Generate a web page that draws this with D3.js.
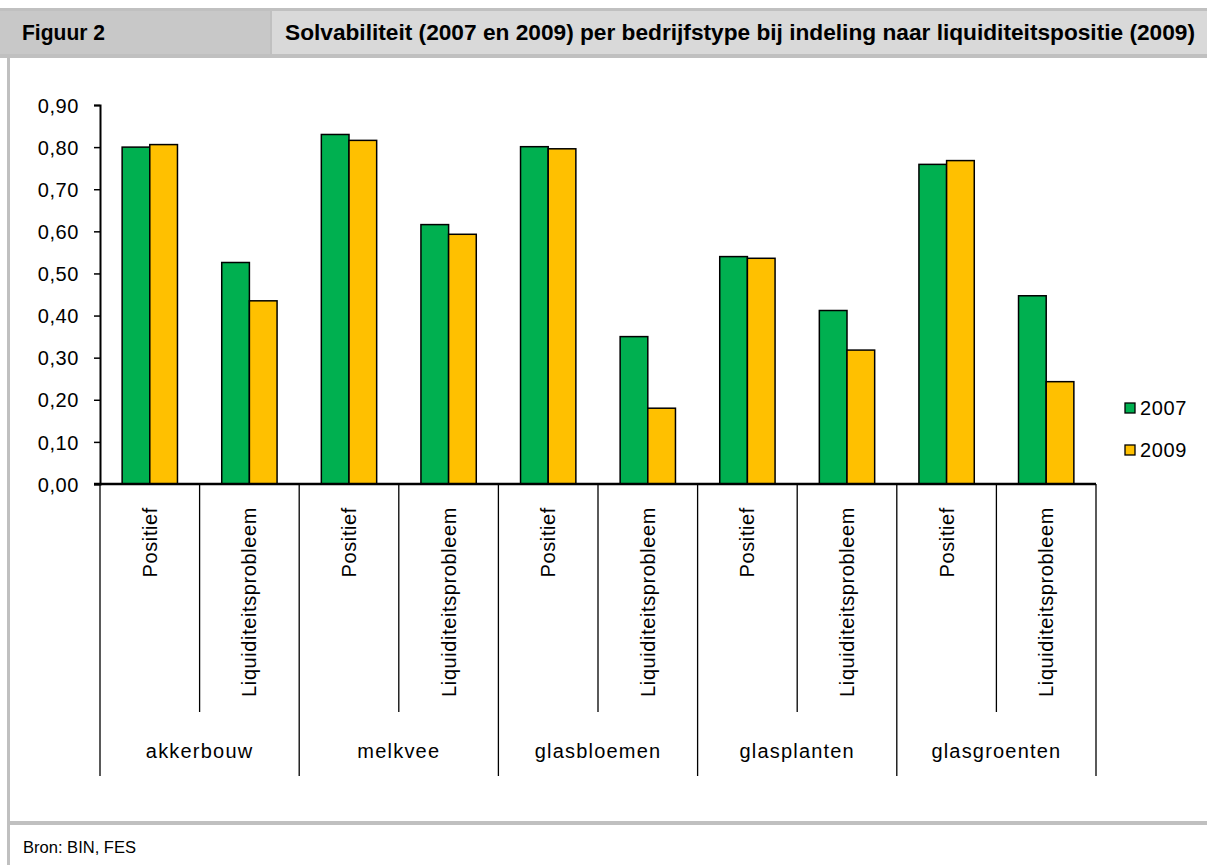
<!DOCTYPE html>
<html>
<head>
<meta charset="utf-8">
<script src="https://cdn.jsdelivr.net/npm/d3@7"></script>
<style>
  body { margin: 0; background: #fff; }
  svg { display: block; }
  .lbl { font-family: "Liberation Sans", Arial, sans-serif; font-size: 20px; fill: #000; letter-spacing: 0.6px; }
</style>
</head>
<body>
<script>
// Solvabiliteit per bedrijfstype, 2007 vs 2009

var groups = ["akkerbouw", "melkvee", "glasbloemen", "glasplanten", "glasgroenten"];
var positions = ["Positief", "Liquiditeitsprobleem"];
var years = ["2007", "2009"];
var values2007 = [0.800, 0.526, 0.830, 0.616, 0.801, 0.350, 0.540, 0.412, 0.759, 0.447];
var values2009 = [0.806, 0.435, 0.816, 0.593, 0.796, 0.180, 0.536, 0.318, 0.768, 0.243];
var yTicks = [0, 0.1, 0.2, 0.3, 0.4, 0.5, 0.6, 0.7, 0.8, 0.9];
var colors = ["#00B050", "#FFC000"];

var W = 1207, H = 865;
var svg = d3.select("body").append("svg").attr("width", W).attr("height", H);

// frame / header
var grey = "#c0c0c0";
var narrow = "'Liberation Sans Narrow', 'Liberation Sans', sans-serif";
svg.append("rect").attr("x", 0).attr("y", 8).attr("width", W).attr("height", 50).attr("fill", grey);
svg.append("rect").attr("x", 0).attr("y", 11).attr("width", 270).attr("height", 43).attr("fill", "#c8c8c8");
svg.append("rect").attr("x", 272).attr("y", 11).attr("width", W - 272).attr("height", 43).attr("fill", "#d9d9d9");
svg.append("rect").attr("x", 7).attr("y", 58).attr("width", 3).attr("height", H - 58).attr("fill", grey);
svg.append("rect").attr("x", 7).attr("y", 821).attr("width", W - 7).attr("height", 4).attr("fill", grey);

svg.append("text").attr("x", 22).attr("y", 40)
  .style("font-family", narrow).style("font-weight", "bold").style("font-size", "22px")
  .attr("textLength", 83).attr("lengthAdjust", "spacingAndGlyphs")
  .text("Figuur 2");
svg.append("text").attr("x", 285).attr("y", 40)
  .style("font-family", narrow).style("font-weight", "bold").style("font-size", "22px")
  .attr("textLength", 910).attr("lengthAdjust", "spacingAndGlyphs")
  .text("Solvabiliteit (2007 en 2009) per bedrijfstype bij indeling naar liquiditeitspositie (2009)");
svg.append("text").attr("x", 23).attr("y", 853)
  .style("font-family", narrow).style("font-size", "16px")
  .attr("textLength", 113).attr("lengthAdjust", "spacingAndGlyphs")
  .text("Bron: BIN, FES");

// data rows
var rows = [];
groups.forEach(function (g, gi) {
  positions.forEach(function (p, pi) {
    var i = gi * 2 + pi;
    rows.push({ key: g + "|" + p, group: g, pos: p, v: [values2007[i], values2009[i]] });
  });
});

var plotL = 100, plotR = 1096, plotB = 484, plotT = 105;
var x = d3.scaleBand().domain(rows.map(function (d) { return d.key; })).range([plotL, plotR]);
var xs = d3.scaleBand().domain(years).range([0, x.bandwidth()]).paddingOuter(0.8);
var y = d3.scaleLinear().domain([0, 0.9]).range([plotB, plotT]);

// bars
var cat = svg.selectAll("g.cat").data(rows).enter().append("g")
  .attr("transform", function (d) { return "translate(" + x(d.key) + ",0)"; });
cat.selectAll("rect").data(function (d) { return d.v.map(function (v, i) { return { year: years[i], v: v, i: i }; }); })
  .enter().append("rect")
  .attr("x", function (d) { return xs(d.year); })
  .attr("width", xs.bandwidth())
  .attr("y", function (d) { return y(d.v); })
  .attr("height", function (d) { return plotB - y(d.v); })
  .attr("fill", function (d) { return colors[d.i]; })
  .attr("stroke", "#000").attr("stroke-width", 1.5);

// y axis
var fmt = d3.format(".2f");
var yAxis = svg.append("g").attr("transform", "translate(" + plotL + ",0)")
  .call(d3.axisLeft(y).tickValues(yTicks).tickSize(6).tickPadding(15)
    .tickFormat(function (d) { return fmt(d).replace(".", ","); }));
yAxis.select(".domain").attr("stroke-width", 2);
yAxis.selectAll(".tick line").attr("stroke-width", 1.5);
yAxis.selectAll(".tick text").attr("class", "lbl").attr("dy", "0.36em");
yAxis.attr("font-family", null).attr("font-size", null);

// x axis line
svg.append("line").attr("x1", plotL - 6).attr("x2", plotR).attr("y1", plotB).attr("y2", plotB)
  .attr("stroke", "#000").attr("stroke-width", 2.5);

// separators
var bounds = d3.range(rows.length + 1).map(function (i) { return plotL + i * x.step(); });
svg.selectAll("line.sep").data(bounds).enter().append("line")
  .attr("x1", function (d) { return d; }).attr("x2", function (d) { return d; })
  .attr("y1", plotB).attr("y2", function (d, i) { return i % 2 === 0 ? 776 : 712; })
  .attr("stroke", "#000").attr("stroke-width", 1.3);

// sub category labels (rotated)
svg.selectAll("text.sub").data(rows).enter().append("text")
  .attr("class", "lbl")
  .attr("transform", function (d) { return "translate(" + (x(d.key) + x.bandwidth() / 2 + 7) + ",507) rotate(-90)"; })
  .attr("text-anchor", "end")
  .text(function (d) { return d.pos; });

// group labels
svg.selectAll("text.grp").data(groups).enter().append("text")
  .attr("class", "lbl")
  .attr("x", function (d, i) { return plotL + (i * 2 + 1) * x.step(); })
  .attr("y", 758).attr("text-anchor", "middle")
  .style("letter-spacing", "1.2px")
  .text(function (d) { return d; });

// legend
var leg = svg.selectAll("g.leg").data(years).enter().append("g")
  .attr("transform", function (d, i) { return "translate(1125," + (403 + i * 42) + ")"; });
leg.append("rect").attr("width", 10).attr("height", 10)
  .attr("fill", function (d, i) { return colors[i]; })
  .attr("stroke", "#000").attr("stroke-width", 1.3);
leg.append("text").attr("class", "lbl").attr("x", 15).attr("y", 12)
  .text(function (d) { return d; });
</script>
</body>
</html>
